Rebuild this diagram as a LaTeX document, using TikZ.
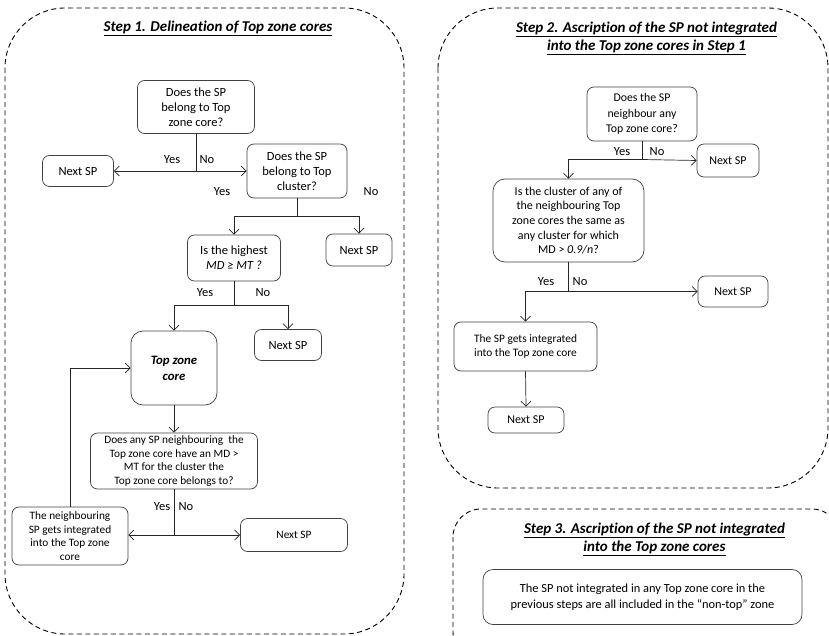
\documentclass[tikz,border=0pt]{standalone}
\usepackage{fontspec}
\setmainfont{Carlito}[Ligatures={NoCommon}]
\usetikzlibrary{arrows.meta}
\newcommand{\fsA}{\fontsize{12.5}{15}\selectfont}
\newcommand{\fsB}{\fontsize{11.3}{13.7}\selectfont}
\tikzset{
  box/.style={draw=black!75, rounded corners=7pt, align=center, inner sep=1pt, line width=0.7pt, font=\fsA},
  arr/.style={-{Straight Barb[length=5pt,width=10pt]}, line width=0.7pt, draw=black!85},
  ln/.style={line width=0.7pt, draw=black!85},
  lbl/.style={font=\fontsize{12.5}{14}\selectfont, inner sep=0pt},
  outer/.style={dash pattern=on 5pt off 3.5pt, line width=0.9pt, rounded corners=60pt},
  ttl/.style={font=\fontsize{15}{18}\selectfont\bfseries\itshape, align=center, inner sep=0pt}
}
\begin{document}
\begin{tikzpicture}[x=1pt,y=-1pt]
\useasboundingbox (0,0) rectangle (829,636);
\begin{scope}
\clip (0,0) rectangle (829,636);
% outer dashed frames
\draw[outer] (5,8) rectangle (404,634);
\draw[outer] (438,8) rectangle (828,488);
\draw[outer, rounded corners=28pt] (453,509) rectangle (840,660);

% ---------- Step 1 ----------
\node[ttl] (t1) at (218,28) {\underline{Step 1. Delineation of Top zone cores}};
\node[box, minimum width=117pt, minimum height=53pt] (q1) at (196,107) {Does the SP\\belong to Top\\zone core?};
\node[box, minimum width=71pt, minimum height=31pt] (n1) at (78,171) {Next SP};
\node[box, minimum width=100pt, minimum height=54pt] (q2) at (297,171) {Does the SP\\belong to Top\\cluster?};
\node[box, minimum width=93pt, minimum height=46pt] (q3) at (234,258) {Is the highest\\\textit{MD ≥ MT ?}};
\node[box, minimum width=66pt, minimum height=32pt] (n2) at (359,250) {Next SP};
\node[box, minimum width=86pt, minimum height=74pt, rounded corners=12pt, font=\fontsize{12.8}{16}\selectfont\bfseries\itshape] (core) at (174,368) {Top zone\\core};
\node[box, minimum width=67pt, minimum height=31pt] (n3) at (288,345) {Next SP};
\node[box, minimum width=167pt, minimum height=56pt, font=\fsB] (q4) at (174,461) {Does any SP neighbouring\ \ the\\Top zone core have an MD >\\MT for the cluster the\\Top zone core belongs to?};
\node[box, minimum width=116pt, minimum height=58pt, font=\fsB] (nb) at (70,536) {The neighbouring\\SP gets integrated\\into the Top zone\\core};
\node[box, minimum width=107pt, minimum height=33pt, font=\fsB] (n4) at (294,535) {Next SP};

\coordinate (j1) at (196,171);
\draw[ln] (q1.south) -- (j1);
\draw[arr] (j1) -- (n1.east);
\draw[arr] (j1) -- (q2.west);
\node[lbl] (y1) at (172,160) {Yes};
\node[lbl] (o1) at (207,160) {No};

\coordinate (j2) at (297,216);
\coordinate (j2l) at (234,216);
\coordinate (j2r) at (359,216);
\draw[ln] (q2.south) -- (j2);
\draw[ln] (j2l) -- (j2r);
\draw[arr] (j2l) -- (q3.north);
\draw[arr] (j2r) -- (n2.north);
\node[lbl] (y2) at (222,192) {Yes};
\node[lbl] (o2) at (371,192) {No};

\coordinate (j3) at (234,305);
\coordinate (j3l) at (174,305);
\coordinate (j3r) at (288,305);
\draw[ln] (q3.south) -- (j3);
\draw[ln] (j3l) -- (j3r);
\draw[arr] (j3l) -- (core.north);
\draw[arr] (j3r) -- (n3.north);
\node[lbl] (y3) at (205,293) {Yes};
\node[lbl] (o3) at (263,293) {No};

\draw[arr] (core.south) -- (q4.north);

\coordinate (j4) at (174,535);
\draw[ln] (q4.south) -- (j4);
\draw[arr] (j4) -- (nb.east |- j4);
\draw[arr] (j4) -- (n4.west);
\node[lbl] (y4) at (162,507) {Yes};
\node[lbl] (o4) at (186,507) {No};

\coordinate (fb) at (70,368);
\draw[arr] (nb.north) -- (fb) -- (core.west |- fb);

% ---------- Step 2 ----------
\node[ttl] (t2) at (646.5,38.5) {\underline{Step 2. Ascription of the SP not integrated}\\\underline{into the Top zone cores in Step 1}};
\node[box, minimum width=110pt, minimum height=54pt, font=\fontsize{11.8}{15.5}\selectfont] (s2q1) at (642,114) {Does the SP\\neighbour any\\Top zone core?};
\node[box, minimum width=62pt, minimum height=33pt, font=\fontsize{12}{14}\selectfont] (s2n1) at (728,160.5) {Next SP};
\node[box, minimum width=151pt, minimum height=83pt, rounded corners=12pt, font=\fontsize{12}{14.6}\selectfont] (s2q2) at (568.5,220.5) {Is the cluster of any of\\the neighbouring Top\\zone cores the same as\\any cluster for which\\MD > \textit{0.9/n}?};
\node[box, minimum width=70pt, minimum height=31pt, font=\fontsize{12}{14}\selectfont] (s2n2) at (733,291.5) {Next SP};
\node[box, minimum width=143pt, minimum height=49pt, font=\fontsize{11.4}{14}\selectfont] (s2b) at (525.5,346.5) {The SP gets integrated\\into the Top zone core};
\node[box, minimum width=76pt, minimum height=26pt, font=\fontsize{12}{14}\selectfont] (s2n3) at (526,420) {Next SP};

\coordinate (k1) at (642,159.5);
\coordinate (k1l) at (568.5,159.5);
\draw[ln] (s2q1.south) -- (k1);
\draw[arr] (k1) -- (s2n1.west);
\draw[arr] (k1) -- (k1l) -- (s2q2.north);
\node[lbl] (y5) at (622,152) {Yes};
\node[lbl] (o5) at (657,152) {No};

\coordinate (k2) at (568.5,291.5);
\coordinate (k2l) at (525.5,291.5);
\draw[ln] (s2q2.south) -- (k2);
\draw[arr] (k2) -- (s2n2.west);
\draw[arr] (k2) -- (k2l) -- (s2b.north);
\node[lbl] (y6) at (546,282) {Yes};
\node[lbl] (o6) at (580,282) {No};

\draw[arr] (s2b.south) -- (s2n3.north);

% ---------- Step 3 ----------
\node[ttl] (t3) at (654.5,539) {\underline{Step 3. Ascription of the SP not integrated}\\\underline{into the Top zone cores}};
\node[box, minimum width=319pt, minimum height=55pt, rounded corners=10pt, font=\fontsize{12.4}{16}\selectfont] (s3b) at (642.5,597) {The SP not integrated in any Top zone core in the\\previous steps are all included in the “non-top” zone};
\end{scope}
\end{tikzpicture}
\end{document}
